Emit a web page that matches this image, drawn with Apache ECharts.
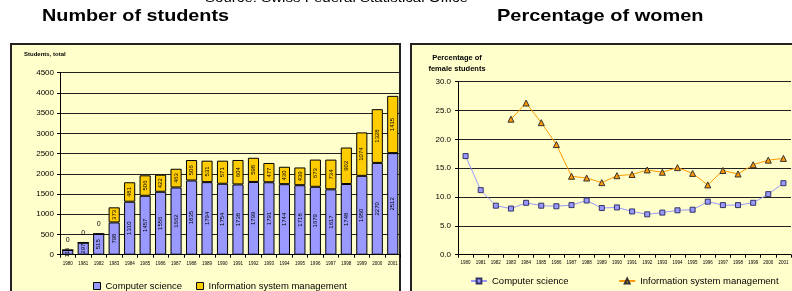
<!DOCTYPE html>
<html>
<head>
<meta charset="utf-8">
<script src="https://cdn.jsdelivr.net/npm/echarts@6/dist/echarts.min.js"></script>
<style>
  html, body { margin: 0; padding: 0; background: #fff; }
  #chart { width: 792px; height: 291px; }
</style>
</head>
<body>
<div id="chart"></div>
<script>
// years shared by both charts
var years = ['1980', '1981', '1982', '1983', '1984', '1985', '1986', '1987', '1988', '1989', '1990',
  '1991', '1992', '1993', '1994', '1995', '1996', '1997', '1998', '1999', '2000', '2001'];

// students, total (stacked)
var csStudents = [115, 297, 515, 798, 1310, 1457, 1556, 1662, 1835, 1794, 1754,
  1738, 1799, 1791, 1744, 1718, 1679, 1617, 1748, 1950, 2270, 2512];
var ismStudents = [0, 0, 0, 373, 481, 506, 422, 463, 506, 531, 571,
  604, 598, 477, 430, 439, 673, 734, 902, 1074, 1328, 1415];

// percentage of female students
var csWomen = [17.1, 11.2, 8.5, 8.0, 9.0, 8.5, 8.4, 8.6, 9.4, 8.1, 8.2,
  7.5, 7.0, 7.3, 7.7, 7.8, 9.2, 8.6, 8.6, 9.0, 10.5, 12.4];
var ismWomen = [null, null, null, 23.5, 26.3, 22.9, 19.1, 13.6, 13.3, 12.5, 13.7,
  13.9, 14.7, 14.3, 15.1, 14.1, 12.1, 14.6, 14.0, 15.6, 16.4, 16.7];

var FONT = 'Liberation Sans, Arial, sans-serif';

var myChart = echarts.init(document.getElementById('chart'));

// zero-valued stack pieces get their label above the bar
var ismData = ismStudents.map(function (v) {
  if (v === 0) {
    return { value: v, label: { position: 'top', distance: 6, rotate: 0, fontSize: 7 } };
  }
  return v;
});

var barLabel = {
  show: true,
  position: 'inside',
  rotate: 90,
  fontSize: 6,
  color: '#000',
  fontFamily: FONT
};

var option = {
  animation: false,
  backgroundColor: '#fff',
  graphic: [
    // panels
    { type: 'rect', z: -10, shape: { x: 11, y: 44, width: 389, height: 260 },
      style: { fill: '#FFFFCC', stroke: '#222', lineWidth: 2 } },
    { type: 'rect', z: -10, shape: { x: 411, y: 44, width: 400, height: 260 },
      style: { fill: '#FFFFCC', stroke: '#222', lineWidth: 2 } },
    // headings (the source picture is a little stretched sideways)
    { type: 'text', x: 205, y: -8, scaleX: 1.16,
      style: { text: 'Source: Swiss Federal Statistical Office', font: '13px ' + FONT, fill: '#000',
        verticalAlign: 'top' } },
    { type: 'text', x: 42, y: 8, scaleX: 1.165,
      style: { text: 'Number of students', font: 'bold 17px ' + FONT, fill: '#000', verticalAlign: 'top' } },
    { type: 'text', x: 497, y: 8, scaleX: 1.175,
      style: { text: 'Percentage of women', font: 'bold 17px ' + FONT, fill: '#000', verticalAlign: 'top' } },
    { type: 'text', x: 24, y: 51,
      style: { text: 'Students, total', font: 'bold 6px ' + FONT, fill: '#000', verticalAlign: 'top' } },
    { type: 'text', x: 457, y: 52,
      style: { text: 'Percentage of\nfemale students', font: 'bold 7.5px ' + FONT, fill: '#000',
        align: 'center', verticalAlign: 'top', lineHeight: 11 } }
  ],
  legend: [{
    data: ['Computer science', 'Information system management'],
    left: 93, top: 281,
    itemWidth: 7, itemHeight: 7, itemGap: 14,
    icon: 'rect',
    itemStyle: { borderColor: '#000', borderWidth: 1 },
    textStyle: { fontSize: 9.5, color: '#000', fontFamily: FONT },
    padding: 0
  }, {
    data: [{ name: 'Computer science ' }, { name: 'Information system management ' }],
    left: 470, top: 276, width: 320,
    itemWidth: 16, itemHeight: 6, itemGap: 47,
    textStyle: { fontSize: 9.5, color: '#000', fontFamily: FONT },
    padding: 0
  }],
  grid: [
    { left: 60, top: 72.7, width: 340.5, height: 182 },
    { left: 458, top: 81.7, width: 333, height: 173 }
  ],
  xAxis: [{
    gridIndex: 0,
    type: 'category',
    data: years,
    axisLine: { lineStyle: { color: '#000', width: 1 } },
    axisTick: { show: true, length: 3, lineStyle: { color: '#000' } },
    axisLabel: { fontSize: 4.5, color: '#000', margin: 7, fontFamily: FONT, interval: 0 }
  }, {
    gridIndex: 1,
    type: 'category',
    data: years,
    axisLine: { lineStyle: { color: '#000', width: 1 } },
    axisTick: { show: true, length: 3, lineStyle: { color: '#000' } },
    axisLabel: { fontSize: 4.5, color: '#000', margin: 6, fontFamily: FONT, interval: 0 }
  }],
  yAxis: [{
    gridIndex: 0,
    type: 'value',
    min: 0, max: 4500, interval: 500,
    axisLine: { show: true, lineStyle: { color: '#000' } },
    axisTick: { show: true, length: 3, lineStyle: { color: '#000' } },
    axisLabel: { fontSize: 8, color: '#000', margin: 6, fontFamily: FONT,
      formatter: function (v) { return String(v); } },
    splitLine: { lineStyle: { color: '#222', width: 1 } }
  }, {
    gridIndex: 1,
    type: 'value',
    min: 0, max: 30, interval: 5,
    axisLine: { show: true, lineStyle: { color: '#000' } },
    axisTick: { show: true, length: 3, lineStyle: { color: '#000' } },
    axisLabel: { fontSize: 8, color: '#000', margin: 7, fontFamily: FONT,
      formatter: function (v) { return v.toFixed(1); } },
    splitLine: { lineStyle: { color: '#222', width: 1 } }
  }],
  series: [{
    name: 'Computer science',
    type: 'bar',
    stack: 'students',
    xAxisIndex: 0, yAxisIndex: 0,
    barWidth: '72%',
    itemStyle: { color: '#9999FF', borderColor: '#000', borderWidth: 1 },
    label: barLabel,
    data: csStudents
  }, {
    name: 'Information system management',
    type: 'bar',
    stack: 'students',
    xAxisIndex: 0, yAxisIndex: 0,
    barWidth: '72%',
    itemStyle: { color: '#FFCC00', borderColor: '#000', borderWidth: 1 },
    label: barLabel,
    data: ismData
  }, {
    name: 'Computer science ',
    type: 'line',
    xAxisIndex: 1, yAxisIndex: 1,
    symbol: 'rect', symbolSize: 5,
    lineStyle: { color: '#9999FF', width: 1 },
    itemStyle: { color: '#9999FF', borderColor: '#333366', borderWidth: 1 },
    data: csWomen
  }, {
    name: 'Information system management ',
    type: 'line',
    xAxisIndex: 1, yAxisIndex: 1,
    symbol: 'triangle', symbolSize: 6,
    lineStyle: { color: '#FF9900', width: 1 },
    itemStyle: { color: '#FF9900', borderColor: '#333', borderWidth: 1 },
    data: ismWomen
  }]
};

myChart.setOption(option);
</script>
</body>
</html>
